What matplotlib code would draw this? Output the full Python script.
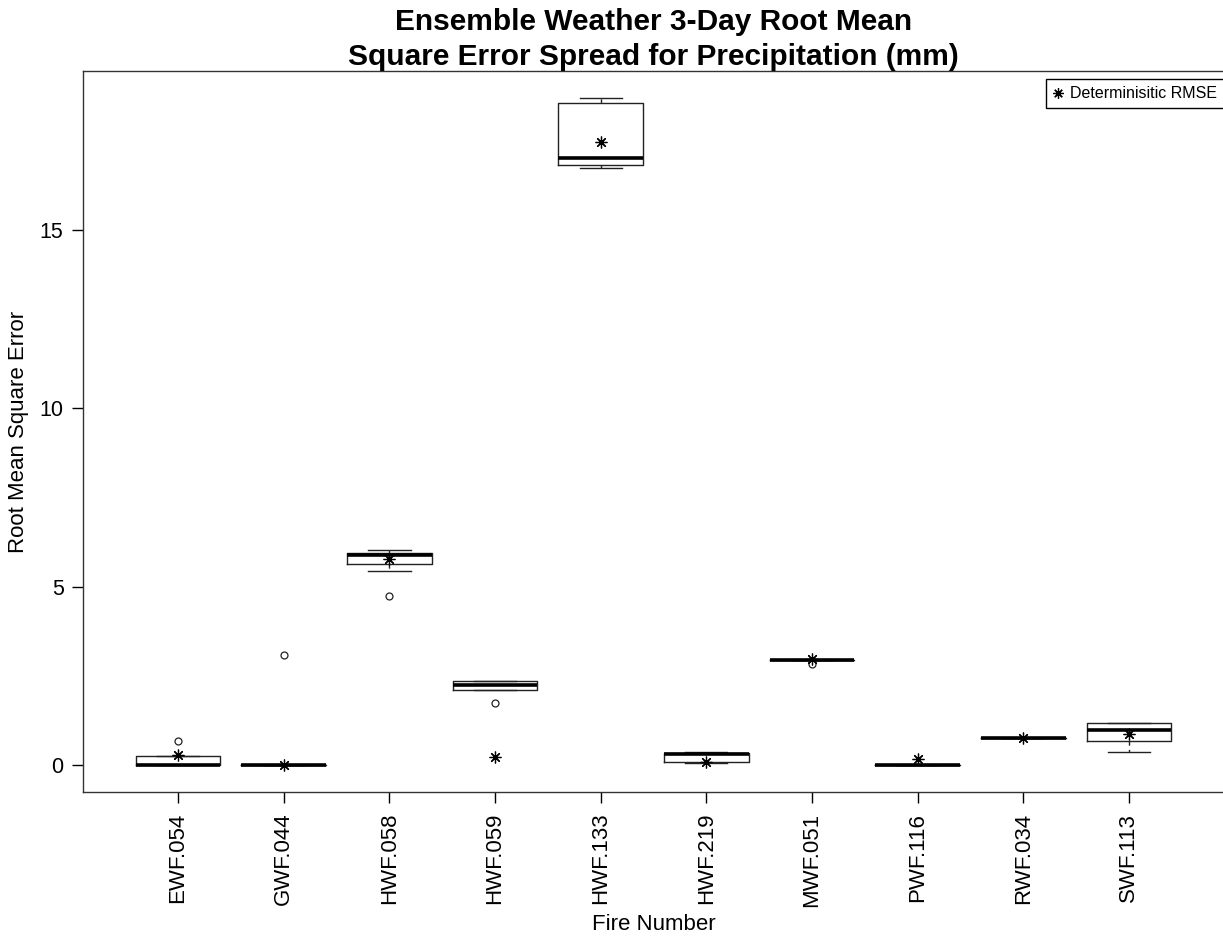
import matplotlib.pyplot as plt
from matplotlib.lines import Line2D

plt.rcParams['font.family'] = ['Liberation Sans', 'DejaVu Sans']

fires = ['EWF.054', 'GWF.044', 'HWF.058', 'HWF.059', 'HWF.133',
         'HWF.219', 'MWF.051', 'PWF.116', 'RWF.034', 'SWF.113']
whis_lo = [0.00, 0.00, 5.44, 2.11, 16.74, 0.06, 2.95, 0.01, 0.75, 0.36]
q1 = [0.00, 0.00, 5.63, 2.11, 16.81, 0.08, 2.95, 0.01, 0.75, 0.67]
median = [0.01, 0.00, 5.88, 2.24, 17.02, 0.31, 2.95, 0.01, 0.75, 1.00]
q3 = [0.26, 0.00, 5.95, 2.35, 18.56, 0.34, 2.95, 0.01, 0.75, 1.17]
whis_hi = [0.26, 0.00, 6.02, 2.35, 18.70, 0.36, 2.95, 0.01, 0.75, 1.17]
outliers = [[0.68], [3.09], [4.73], [1.73], [], [], [2.83], [], [], []]
det_rmse = [0.30, 0.00, 5.77, 0.22, 17.46, 0.08, 2.99, 0.17, 0.75, 0.87]

stats = []
for i in range(len(fires)):
    stats.append({'label': fires[i], 'whislo': whis_lo[i], 'q1': q1[i],
                  'med': median[i], 'q3': q3[i], 'whishi': whis_hi[i],
                  'fliers': outliers[i]})

fig = plt.figure(figsize=(12.23, 9.42), dpi=100)
ax = fig.add_axes([83 / 1223, 150 / 942, 1141 / 1223, 721 / 942])

pos = list(range(1, len(fires) + 1))
ax.bxp(stats, positions=pos, widths=0.8, showfliers=True,
       boxprops=dict(color='#222222', linewidth=1.0),
       whiskerprops=dict(color='#222222', linewidth=1.0, linestyle=(0, (3, 3))),
       capprops=dict(color='#222222', linewidth=1.0),
       medianprops=dict(color='black', linewidth=2.6, solid_capstyle='butt'),
       flierprops=dict(marker='o', markersize=5, markerfacecolor='none',
                       markeredgecolor='#222222', markeredgewidth=0.9),
       capwidths=0.4)

# deterministic run drawn as R-style asterisks
ax.plot(pos, det_rmse, linestyle='none', marker=(8, 2, 0), markersize=8.5,
        color='black', markeredgewidth=0.9)

ax.set_xlim(0.1, 10.9)
ax.set_ylim(-0.75, 19.45)
ax.set_yticks([0, 5, 10, 15])
ax.set_xticks(pos)
ax.set_xticklabels(fires, rotation=90, fontsize=16)
ax.tick_params(axis='y', labelsize=15.5, length=8, width=1, pad=6)
ax.tick_params(axis='x', length=8, width=1, pad=7)
for s in ax.spines.values():
    s.set_linewidth(1.0)
    s.set_color('#333333')

ax.set_xlabel('Fire Number', fontsize=16, labelpad=5)
ax.set_ylabel('Root Mean Square Error', fontsize=16)
ax.yaxis.set_label_coords(-0.0473, 0.5)

fig.text((83 + 1224) / 2 / 1223, 1 - 8 / 942,
         'Ensemble Weather 3-Day Root Mean\nSquare Error Spread for Precipitation (mm)',
         ha='center', va='top', fontsize=21.5, fontweight='bold', linespacing=1.32)

handle = Line2D([], [], linestyle='none', marker=(8, 2, 0), markersize=7.5,
                color='black', markeredgewidth=0.9)
ax.legend([handle], ['Determinisitic RMSE'], loc='upper right',
          bbox_to_anchor=(1.0, 1 - 8 / 721), borderaxespad=0, fontsize=11.5,
          fancybox=False, edgecolor='black', framealpha=1, handlelength=0.6,
          handletextpad=0.45, borderpad=0.45)

fig.savefig('out.png', dpi=100)
